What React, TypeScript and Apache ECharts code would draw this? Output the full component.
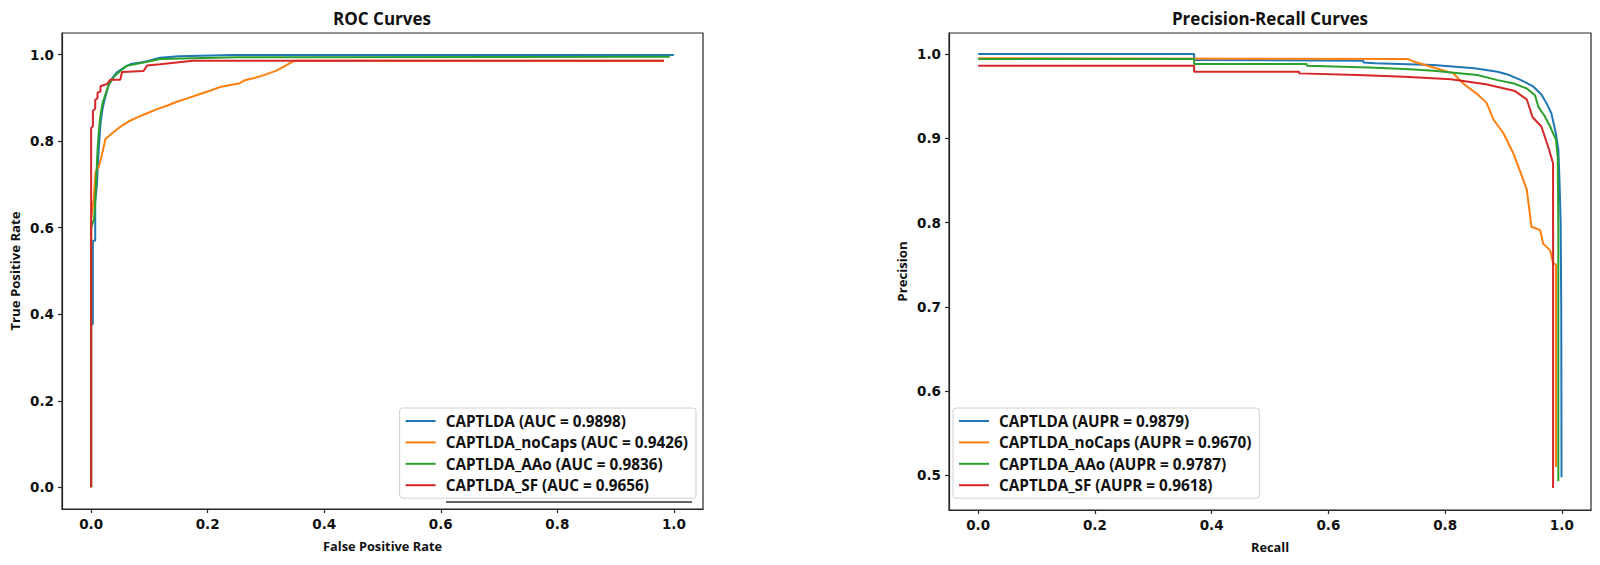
import React, { useEffect, useRef } from "react";
import * as echarts from "echarts";

const COLORS = ["#1f77b4", "#ff7f0e", "#2ca02c", "#d62728"];
const MODELS = ["CAPTLDA", "CAPTLDA_noCaps", "CAPTLDA_AAo", "CAPTLDA_SF"];
const AUC = ["0.9898", "0.9426", "0.9836", "0.9656"];
const AUPR = ["0.9879", "0.9670", "0.9787", "0.9618"];
const TICKS_X = [0, 0.2, 0.4, 0.6, 0.8, 1.0];
const TICKS_ROC_Y = [0, 0.2, 0.4, 0.6, 0.8, 1.0];
const TICKS_PR_Y = [0.5, 0.6, 0.7, 0.8, 0.9, 1.0];

// ROC curves: [FPR, TPR]
const rocCaptlda = [
  [0, 0], [0, 0.377], [0.003, 0.377], [0.003, 0.57], [0.007, 0.57], [0.007, 0.66],
  [0.010, 0.70], [0.012, 0.76], [0.014, 0.80], [0.016, 0.84], [0.019, 0.87], [0.022, 0.89],
  [0.026, 0.91], [0.030, 0.93], [0.036, 0.945], [0.044, 0.959], [0.052, 0.966], [0.061, 0.974],
  [0.070, 0.979], [0.085, 0.982], [0.096, 0.985], [0.118, 0.993], [0.15, 0.996], [0.244, 0.999],
  [1.0, 0.999],
];
const rocNoCaps = [
  [0, 0], [0, 0.62], [0.0045, 0.666], [0.0074, 0.727], [0.010, 0.735], [0.013, 0.74],
  [0.018, 0.766], [0.0245, 0.805], [0.033, 0.815], [0.045, 0.828], [0.053, 0.836],
  [0.065, 0.846], [0.079, 0.855], [0.095, 0.864], [0.113, 0.874], [0.13, 0.882],
  [0.147, 0.891], [0.165, 0.899], [0.187, 0.909], [0.205, 0.917], [0.221, 0.925],
  [0.255, 0.934], [0.264, 0.941], [0.28, 0.946], [0.295, 0.952], [0.318, 0.963],
  [0.33, 0.972], [0.342, 0.981], [0.35, 0.986], [0.983, 0.986],
];
const rocAAo = [
  [0, 0], [0, 0.60], [0.005, 0.62], [0.007, 0.66], [0.009, 0.72], [0.011, 0.78],
  [0.013, 0.82], [0.016, 0.86], [0.02, 0.89], [0.025, 0.91], [0.03, 0.93], [0.04, 0.95],
  [0.05, 0.962], [0.061, 0.974], [0.09, 0.982], [0.118, 0.99], [0.25, 0.994], [0.993, 0.995],
];
const rocSF = [
  [0, 0], [0, 0.83], [0.003, 0.835], [0.003, 0.87], [0.007, 0.875], [0.007, 0.895],
  [0.011, 0.90], [0.011, 0.912], [0.016, 0.915], [0.016, 0.927], [0.027, 0.932],
  [0.033, 0.942], [0.05, 0.942], [0.053, 0.96], [0.09, 0.962], [0.096, 0.975],
  [0.118, 0.978], [0.175, 0.986], [0.983, 0.986],
];

// Precision-Recall curves: [Recall, Precision]
const prCaptlda = [
  [0, 1.0], [0.37, 1.0], [0.37, 0.993], [0.66, 0.992], [0.66, 0.990], [0.68, 0.989],
  [0.78, 0.987], [0.85, 0.983], [0.89, 0.979], [0.91, 0.975], [0.93, 0.969], [0.95, 0.962],
  [0.965, 0.952], [0.975, 0.94], [0.982, 0.93], [0.99, 0.905], [0.994, 0.887],
  [0.996, 0.85], [0.998, 0.80], [0.999, 0.70], [0.9995, 0.498],
];
const prNoCaps = [
  [0, 0.995], [0.737, 0.994], [0.746, 0.991], [0.78, 0.984], [0.814, 0.977], [0.831, 0.965],
  [0.854, 0.953], [0.871, 0.942], [0.883, 0.922], [0.9, 0.906], [0.917, 0.882],
  [0.928, 0.862], [0.94, 0.839], [0.948, 0.795], [0.963, 0.791], [0.968, 0.775],
  [0.98, 0.767], [0.985, 0.752], [0.99, 0.75], [0.99, 0.51],
];
const prAAo = [
  [0, 0.994], [0.37, 0.994], [0.37, 0.988], [0.563, 0.988], [0.563, 0.986], [0.67, 0.984],
  [0.74, 0.982], [0.78, 0.980], [0.855, 0.975], [0.89, 0.969], [0.918, 0.965],
  [0.94, 0.959], [0.954, 0.951], [0.96, 0.937], [0.97, 0.927], [0.98, 0.914],
  [0.99, 0.898], [0.993, 0.878], [0.994, 0.80], [0.994, 0.493],
];
const prSF = [
  [0, 0.986], [0.37, 0.986], [0.37, 0.979], [0.55, 0.979], [0.55, 0.977], [0.65, 0.975],
  [0.73, 0.973], [0.81, 0.970], [0.87, 0.964], [0.92, 0.956], [0.94, 0.946],
  [0.95, 0.925], [0.965, 0.914], [0.978, 0.887], [0.985, 0.87], [0.985, 0.485],
];

const ROC_DATA = [rocCaptlda, rocNoCaps, rocAAo, rocSF];
const PR_DATA = [prCaptlda, prNoCaps, prAAo, prSF];

const TEXT = "#111";
const SPINE = "#262626";
const LABEL_FONT = "Open Sans";

function xAxis(gridIndex: number, name: string) {
  return {
    type: "value",
    gridIndex,
    min: -0.05,
    max: 1.05,
    name,
    nameLocation: "middle",
    nameGap: 30,
    nameTextStyle: { fontFamily: LABEL_FONT, fontWeight: 700, fontSize: 12.8, color: TEXT },
    axisLine: { show: true, onZero: false, lineStyle: { color: SPINE, width: 1.2 } },
    axisTick: { show: true, customValues: TICKS_X, length: 4, lineStyle: { color: SPINE, width: 1.2 } },
    axisLabel: {
      customValues: TICKS_X,
      formatter: (v: number) => v.toFixed(1),
      fontFamily: "DejaVu Sans",
      fontWeight: "bold",
      fontSize: 13.5,
      color: TEXT,
      margin: 8,
    },
    splitLine: { show: false },
  };
}

function yAxis(gridIndex: number, name: string, min: number, max: number, ticks: number[]) {
  return {
    type: "value",
    gridIndex,
    min,
    max,
    name,
    nameLocation: "middle",
    nameGap: 41,
    nameTextStyle: { fontFamily: LABEL_FONT, fontWeight: 700, fontSize: 13.2, color: TEXT },
    axisLine: { show: true, onZero: false, lineStyle: { color: SPINE, width: 1.2 } },
    axisTick: { show: true, customValues: ticks, length: 4, lineStyle: { color: SPINE, width: 1.2 } },
    axisLabel: {
      customValues: ticks,
      formatter: (v: number) => v.toFixed(1),
      fontFamily: "DejaVu Sans",
      fontWeight: "bold",
      fontSize: 13.5,
      color: TEXT,
      margin: 8,
    },
    splitLine: { show: false },
  };
}

function legend(names: string[], pos: any) {
  return {
    data: names,
    ...pos,
    orient: "vertical",
    icon: "rect",
    itemWidth: 30,
    itemHeight: 2,
    itemGap: 5.4,
    padding: [5, 8, 5, 6],
    borderColor: "#d0d0d0",
    borderWidth: 1,
    borderRadius: 3,
    backgroundColor: "rgba(255,255,255,0.85)",
    selectedMode: false,
    textStyle: {
      fontFamily: LABEL_FONT,
      fontWeight: 700,
      fontSize: 15.3,
      color: TEXT,
      lineHeight: 16,
      padding: [0, 0, 0, 5],
    },
  };
}

export default function App() {
  const ref = useRef<HTMLDivElement>(null);
  useEffect(() => {
    if (!ref.current) return;
    const chart = echarts.init(ref.current, null, { renderer: "svg" });
    const rocNames = MODELS.map((m, i) => `${m} (AUC = ${AUC[i]})`);
    const prNames = MODELS.map((m, i) => `${m} (AUPR = ${AUPR[i]})`);
    const series: any[] = [];
    ROC_DATA.forEach((d, i) =>
      series.push({
        type: "line",
        name: rocNames[i],
        xAxisIndex: 0,
        yAxisIndex: 0,
        data: d,
        showSymbol: false,
        symbol: "none",
        lineStyle: { color: COLORS[i], width: 2 },
        itemStyle: { color: COLORS[i] },
        z: 2 + i,
      })
    );
    PR_DATA.forEach((d, i) =>
      series.push({
        type: "line",
        name: prNames[i],
        xAxisIndex: 1,
        yAxisIndex: 1,
        data: d,
        showSymbol: false,
        symbol: "none",
        lineStyle: { color: COLORS[i], width: 2 },
        itemStyle: { color: COLORS[i] },
        z: 2 + i,
      })
    );
    chart.setOption({
      animation: false,
      backgroundColor: "#fff",
      grid: [
        { left: 62, top: 33, width: 641, height: 476, show: true, borderColor: SPINE, borderWidth: 1.2, backgroundColor: "transparent" },
        { left: 949, top: 33, width: 642, height: 477, show: true, borderColor: SPINE, borderWidth: 1.2, backgroundColor: "transparent" },
      ],
      xAxis: [xAxis(0, "False Positive Rate"), xAxis(1, "Recall")],
      yAxis: [
        yAxis(0, "True Positive Rate", -0.05, 1.05, TICKS_ROC_Y),
        yAxis(1, "Precision", 0.459, 1.0249, TICKS_PR_Y),
      ],
      legend: [legend(rocNames, { right: 904, top: 408 }), legend(prNames, { left: 953, top: 408 })],
      graphic: [
        {
          type: "text",
          x: 382,
          y: 18,
          style: { text: "ROC Curves", align: "center", verticalAlign: "middle", fontFamily: LABEL_FONT, fontWeight: 700, fontSize: 17, fill: TEXT },
        },
        {
          type: "text",
          x: 1270,
          y: 18,
          style: { text: "Precision-Recall Curves", align: "center", verticalAlign: "middle", fontFamily: LABEL_FONT, fontWeight: 700, fontSize: 17, fill: TEXT },
        },
        {
          type: "line",
          shape: { x1: 446, y1: 502, x2: 692, y2: 502 },
          style: { stroke: "#333", lineWidth: 1.5 },
          z: 100,
        },
      ],
      series,
    });
    return () => chart.dispose();
  }, []);
  return <div ref={ref} style={{ position: "absolute", left: 0, top: 0, width: 1600, height: 565 }} />;
}
